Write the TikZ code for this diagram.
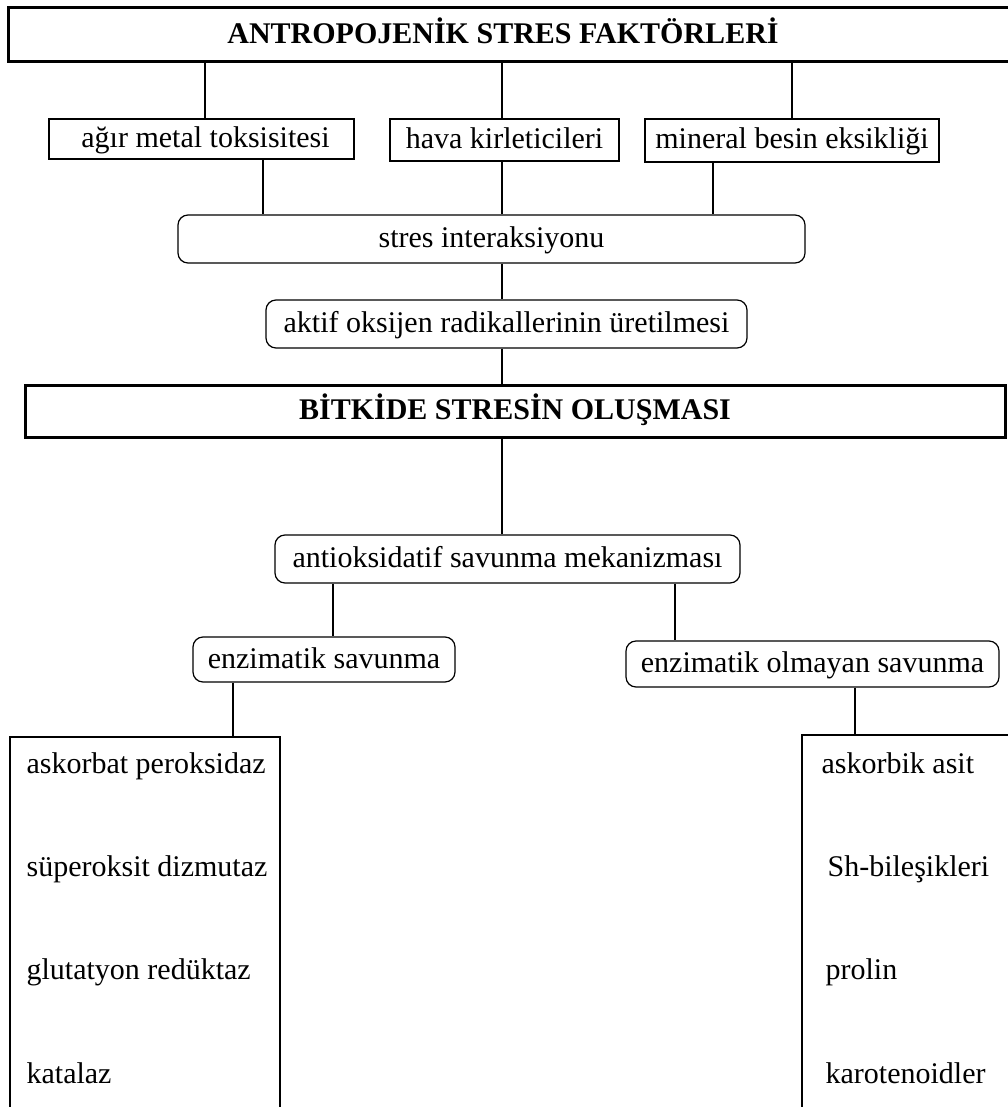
\documentclass[tikz,border=0pt]{standalone}
\usepackage{fontspec}
\setmainfont{Liberation Serif}
\begin{document}
\begin{tikzpicture}[x=1pt, y=-1pt, line width=1.2pt,
  font=\fontsize{30}{36}\selectfont,
  sqbox/.style={draw, rectangle, inner sep=0pt, text height=21pt, text depth=4pt},
  rbox/.style={draw, rectangle, rounded corners=10pt, inner sep=0pt, text height=21pt, text depth=4pt},
  hbox/.style={draw, rectangle, line width=3pt, inner sep=0pt, text height=21pt, text depth=4pt, font=\fontsize{30}{36}\selectfont\bfseries}]
  \useasboundingbox (0,0) rectangle (1008,1107);
  \clip (0,0) rectangle (1008,1107);
  \node (anthro) [hbox, minimum width=1012, minimum height=54] at (514,35) {};
  \node (anthrotext) [font=\fontsize{30}{36}\selectfont\bfseries, text height=21pt, text depth=4pt] at (503,35) {ANTROPOJENİK STRES FAKTÖRLERİ};
  \node (agir) [sqbox, minimum width=305, minimum height=40] at (201.5,139) {\hspace*{8pt}ağır metal toksisitesi};
  \node (hava) [sqbox, minimum width=229, minimum height=42] at (504.5,140) {hava kirleticileri};
  \node (mineral) [sqbox, minimum width=294, minimum height=43] at (792,140.5) {mineral besin eksikliği};
  \node (stres) [rbox, minimum width=627, minimum height=48] at (491.5,239) {stres interaksiyonu};
  \node (aktif) [rbox, minimum width=481, minimum height=48] at (506.5,324) {aktif oksijen radikallerinin üretilmesi};
  \node (bitki) [hbox, minimum width=980, minimum height=52] at (515,411) {BİTKİDE STRESİN OLUŞMASI};
  \node (antioks) [rbox, minimum width=465, minimum height=48] at (507.5,559) {antioksidatif savunma mekanizması};
  \node (enz) [rbox, minimum width=262, minimum height=45] at (324,659.5) {enzimatik savunma};
  \node (olmayan) [rbox, minimum width=373, minimum height=46] at (812.5,664) {enzimatik olmayan savunma};
  \node (leftlist) [sqbox, minimum width=270, minimum height=383] at (145,928.5) {};
  \node (rightlist) [sqbox, minimum width=218, minimum height=385] at (911,927.5) {};
  \node (apx) [anchor=base west, inner sep=0pt] at (26,773) {askorbat peroksidaz};
  \node (sod) [anchor=base west, inner sep=0pt] at (26,876) {süperoksit dizmutaz};
  \node (gr) [anchor=base west, inner sep=0pt] at (26,979) {glutatyon redüktaz};
  \node (kat) [anchor=base west, inner sep=0pt] at (26,1083) {katalaz};
  \node (asa) [anchor=base west, inner sep=0pt] at (821,773) {askorbik asit};
  \node (sh) [anchor=base west, inner sep=0pt] at (827,876) {Sh-bileşikleri};
  \node (pro) [anchor=base west, inner sep=0pt] at (825,979) {prolin};
  \node (kar) [anchor=base west, inner sep=0pt] at (825,1083) {karotenoidler};
  \foreach \n/\x in {agir/205, hava/502, mineral/792}
    \draw (anthro.south -| \x,0) -- (\n.north -| \x,0);
  \foreach \n/\x in {agir/263, hava/502, mineral/713}
    \draw (\n.south -| \x,0) -- (stres.north -| \x,0);
  \foreach \a/\b in {stres/aktif, aktif/bitki, bitki/antioks}
    \draw (\a.south -| 502,0) -- (\b.north -| 502,0);
  \draw (antioks.south -| 333,0) -- (enz.north -| 333,0);
  \draw (antioks.south -| 675,0) -- (olmayan.north -| 675,0);
  \draw (enz.south -| 233,0) -- (leftlist.north -| 233,0);
  \draw (olmayan.south -| 855,0) -- (rightlist.north -| 855,0);
\end{tikzpicture}
\end{document}
